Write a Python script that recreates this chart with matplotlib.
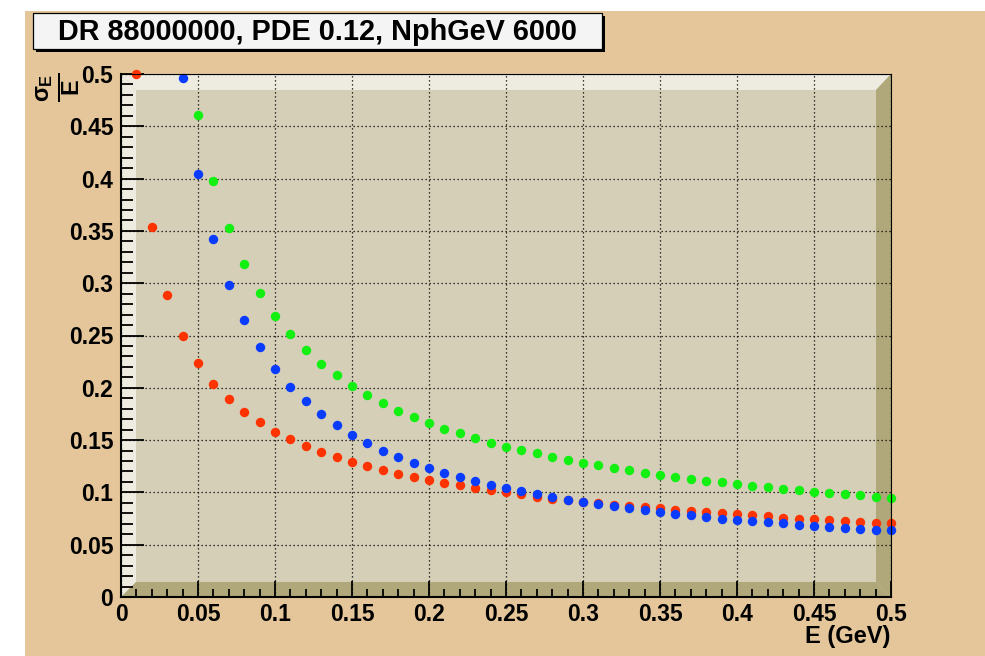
import numpy as np
import matplotlib
matplotlib.use("Agg")
import matplotlib.pyplot as plt
from matplotlib.patches import Rectangle, Polygon
from matplotlib.ticker import FixedLocator, FixedFormatter, MultipleLocator

# ---------------- data ----------------
energy = [0.01, 0.02, 0.03, 0.04, 0.05, 0.06, 0.07, 0.08, 0.09, 0.10,
          0.11, 0.12, 0.13, 0.14, 0.15, 0.16, 0.17, 0.18, 0.19, 0.20,
          0.21, 0.22, 0.23, 0.24, 0.25, 0.26, 0.27, 0.28, 0.29, 0.30,
          0.31, 0.32, 0.33, 0.34, 0.35, 0.36, 0.37, 0.38, 0.39, 0.40,
          0.41, 0.42, 0.43, 0.44, 0.45, 0.46, 0.47, 0.48, 0.49, 0.50]

res_red = [0.500, 0.354, 0.289, 0.250, 0.224, 0.204, 0.189, 0.177, 0.167, 0.158,
           0.151, 0.144, 0.139, 0.134, 0.129, 0.125, 0.121, 0.118, 0.115, 0.112,
           0.109, 0.107, 0.104, 0.102, 0.100, 0.098, 0.096, 0.094, 0.093, 0.091,
           0.090, 0.088, 0.087, 0.086, 0.085, 0.083, 0.082, 0.081, 0.080, 0.079,
           0.078, 0.077, 0.076, 0.075, 0.075, 0.074, 0.073, 0.072, 0.071, 0.071]

# values above the plotted range (off chart) are NaN
res_blue = [np.nan, np.nan, np.nan, 0.496, 0.404, 0.342, 0.298, 0.265, 0.239, 0.218,
            0.201, 0.187, 0.175, 0.164, 0.155, 0.147, 0.140, 0.134, 0.128, 0.123,
            0.119, 0.115, 0.111, 0.107, 0.104, 0.101, 0.098, 0.096, 0.093, 0.091,
            0.089, 0.087, 0.085, 0.083, 0.081, 0.079, 0.078, 0.0765, 0.075, 0.074,
            0.0727, 0.0717, 0.0704, 0.0692, 0.0682, 0.0672, 0.0663, 0.065, 0.0644, 0.0637]

res_green = [np.nan, np.nan, np.nan, np.nan, 0.461, 0.398, 0.353, 0.318, 0.291, 0.269,
             0.251, 0.236, 0.223, 0.212, 0.202, 0.193, 0.185, 0.178, 0.172, 0.166,
             0.161, 0.1565, 0.152, 0.1476, 0.1437, 0.1402, 0.1373, 0.1342, 0.131, 0.1284,
             0.1262, 0.1236, 0.1211, 0.1189, 0.117, 0.115, 0.1131, 0.1112, 0.1096, 0.108,
             0.1064, 0.1048, 0.1033, 0.102, 0.1007, 0.0997, 0.0985, 0.0972, 0.0959, 0.0946]

tick_values = [0, 0.05, 0.1, 0.15, 0.2, 0.25, 0.3, 0.35, 0.4, 0.45, 0.5]
tick_labels = ["0", "0.05", "0.1", "0.15", "0.2", "0.25", "0.3", "0.35", "0.4", "0.45", "0.5"]

title_text = "DR 88000000, PDE 0.12, NphGeV 6000"
xlabel_text = "E (GeV)"

# ---------------- style ----------------
W, H = 985, 656
FONT = "Liberation Sans"
BG_TAN = "#e4c69a"
FRAME_IN = "#d6cfb8"
FRAME_LIGHT = "#eeebe0"
FRAME_DARK = "#b0a77a"
LABEL_FS = 16.5

plt.rcParams["font.family"] = [FONT, "DejaVu Sans"]
plt.rcParams["mathtext.fontset"] = "custom"
plt.rcParams["mathtext.rm"] = "Liberation Sans:bold"
plt.rcParams["mathtext.it"] = "Liberation Sans:bold"
plt.rcParams["mathtext.bf"] = "Liberation Sans:bold"

fig = plt.figure(figsize=(W / 100, H / 100), dpi=100, facecolor="white")

def fx(px):
    return px / W

def fy(py):
    return 1 - py / H

# canvas background
fig.patches.append(Rectangle((fx(25), 0), fx(985) - fx(25), fy(11), transform=fig.transFigure,
                             facecolor=BG_TAN, edgecolor="none", zorder=-10))

# axes
ax_l, ax_r, ax_t, ax_b = 121, 891, 74, 597
ax = fig.add_axes([fx(ax_l), fy(ax_b), fx(ax_r) - fx(ax_l), fy(ax_t) - fy(ax_b)])
ax.set_zorder(1)
ax.set_facecolor(FRAME_IN)
ax.set_xlim(0, 0.5)
ax.set_ylim(0, 0.5)

# 3D frame bands
aw = ax_r - ax_l
ah = ax_b - ax_t
tw = 15 / aw
tt = 16 / ah
tb = 15 / ah
bands = [
    ([(0, 0), (tw, tb), (tw, 1 - tt), (0, 1)], FRAME_LIGHT),
    ([(0, 1), (1, 1), (1 - tw, 1 - tt), (tw, 1 - tt)], FRAME_LIGHT),
    ([(1, 1), (1, 0), (1 - tw, tb), (1 - tw, 1 - tt)], FRAME_DARK),
    ([(0, 0), (1, 0), (1 - tw, tb), (tw, tb)], FRAME_DARK),
]
for pts, c in bands:
    ax.add_patch(Polygon(pts, closed=True, transform=ax.transAxes, facecolor=c,
                         edgecolor="none", zorder=0.5))

# grid
ax.set_axisbelow(True)
ax.grid(True, which="major", color="black", linestyle=(0, (1, 2.2)), linewidth=0.9, zorder=1)

# ticks
for axis in (ax.xaxis, ax.yaxis):
    axis.set_major_locator(FixedLocator(tick_values))
    axis.set_major_formatter(FixedFormatter(tick_labels))
    axis.set_minor_locator(MultipleLocator(0.01))

ax.tick_params(axis="both", which="both", direction="in", width=1.3, color="black",
               top=False, right=False)
ax.tick_params(axis="x", which="major", length=11.3, pad=4.5)
ax.tick_params(axis="x", which="minor", length=5.6)
ax.tick_params(axis="y", which="major", length=16.6, pad=5.5)
ax.tick_params(axis="y", which="minor", length=8.3)
for lab in ax.get_xticklabels() + ax.get_yticklabels():
    lab.set_fontsize(LABEL_FS)
    lab.set_fontweight("bold")
    lab.set_family([FONT, "DejaVu Sans"])

for s in ("left", "bottom"):
    ax.spines[s].set_linewidth(1.5)
for s in ("top", "right"):
    ax.spines[s].set_linewidth(0.8)
for s in ax.spines.values():
    s.set_zorder(5)

# data
ms = 6.8
ax.plot(energy, res_red, linestyle="none", marker="o", markersize=ms, markeredgewidth=0,
        color="#ff3300", clip_on=False, zorder=3)
ax.plot(energy, res_blue, linestyle="none", marker="o", markersize=ms, markeredgewidth=0,
        color="#0a3cff", clip_on=False, zorder=3)
ax.plot(energy, res_green, linestyle="none", marker="o", markersize=ms, markeredgewidth=0,
        color="#11f011", clip_on=False, zorder=3)

# axis titles
fig.text(fx(890), fy(637), xlabel_text, ha="right", va="center", fontsize=LABEL_FS + 0.5,
         fontweight="bold", family=[FONT, "DejaVu Sans"])
fig.text(fx(58), fy(72), r"$\frac{\sigma_{E}}{E}$", rotation=90, ha="center", va="top",
         fontsize=24)

# title box with shadow
bx0, bx1, by0, by1 = 33, 602, 13, 49
fig.patches.append(Rectangle((fx(bx0 + 3), fy(by1 + 3)), fx(bx1) - fx(bx0), fy(by0) - fy(by1),
                             transform=fig.transFigure, facecolor="black", edgecolor="none", zorder=2))
fig.patches.append(Rectangle((fx(bx0), fy(by1)), fx(bx1) - fx(bx0), fy(by0) - fy(by1),
                             transform=fig.transFigure, facecolor="#f4f4f4", edgecolor="black",
                             linewidth=0.9, zorder=3))
fig.text(fx((bx0 + bx1) / 2), fy((by0 + by1) / 2 + 1), title_text, ha="center", va="center",
         fontsize=20.8, fontweight="bold", family=[FONT, "DejaVu Sans"], zorder=4)

fig.savefig("out.png", dpi=100, facecolor=fig.get_facecolor())
